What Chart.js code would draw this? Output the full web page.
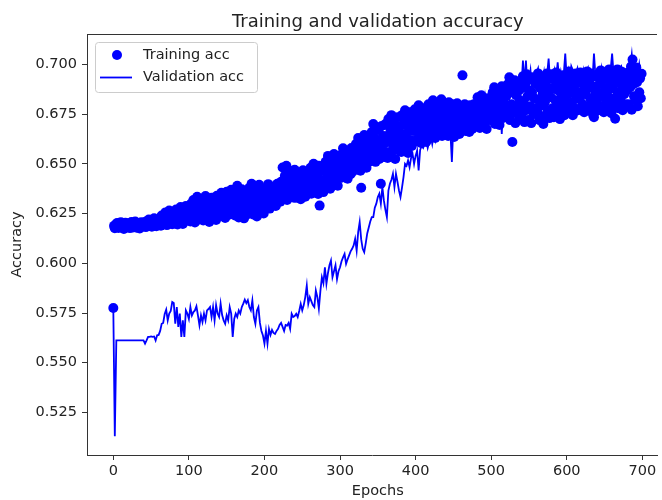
<!DOCTYPE html>
<html>
<head>
<meta charset="utf-8">
<title>Training and validation accuracy</title>
<script src="https://cdn.jsdelivr.net/npm/chart.js@4.4.1/dist/chart.umd.min.js"></script>
<style>
    html, body { margin: 0; padding: 0; background: #ffffff; overflow: hidden; }
    #wrap { width: 662px; height: 500px; }
</style>
</head>
<body>
<div id="wrap"><canvas id="accChart" width="662" height="500"></canvas></div>
<script>
// Training accuracy: one value per epoch (0..699)
const TRAIN_STEP = 1;
// Validation accuracy: sampled every second epoch
const VAL_STEP = 2;

const trainAcc = [
    0.5775, 0.6188, 0.6176, 0.6195, 0.6182, 0.6203, 0.6190, 0.6178, 0.6199, 0.6185,
    0.6207, 0.6192, 0.6180, 0.6198, 0.6172, 0.6189, 0.6204, 0.6183, 0.6196, 0.6190,
    0.6201, 0.6185, 0.6177, 0.6194, 0.6208, 0.6188, 0.6180, 0.6199, 0.6186, 0.6210,
    0.6192, 0.6179, 0.6197, 0.6184, 0.6203, 0.6175, 0.6191, 0.6206, 0.6187, 0.6198,
    0.6189, 0.6205, 0.6193, 0.6182, 0.6212, 0.6198, 0.6187, 0.6220, 0.6202, 0.6190,
    0.6214, 0.6184, 0.6208, 0.6196, 0.6226, 0.6191, 0.6204, 0.6186, 0.6218, 0.6200,
    0.6195, 0.6222, 0.6207, 0.6189, 0.6240, 0.6213, 0.6198, 0.6230, 0.6204, 0.6256,
    0.6218, 0.6192, 0.6235, 0.6210, 0.6265, 0.6201, 0.6226, 0.6245, 0.6196, 0.6232,
    0.6215, 0.6248, 0.6200, 0.6270, 0.6228, 0.6195, 0.6258, 0.6237, 0.6210, 0.6283,
    0.6222, 0.6247, 0.6198, 0.6265, 0.6232, 0.6212, 0.6288, 0.6241, 0.6220, 0.6260,
    0.6235, 0.6275, 0.6210, 0.6300, 0.6255, 0.6225, 0.6318, 0.6268, 0.6205, 0.6290,
    0.6245, 0.6335, 0.6260, 0.6220, 0.6308, 0.6280, 0.6240, 0.6325, 0.6258, 0.6215,
    0.6292, 0.6250, 0.6338, 0.6270, 0.6228, 0.6310, 0.6262, 0.6208, 0.6298, 0.6245,
    0.6330, 0.6275, 0.6232, 0.6315, 0.6255, 0.6288, 0.6218, 0.6340, 0.6268, 0.6302,
    0.6248, 0.6320, 0.6275, 0.6355, 0.6238, 0.6300, 0.6265, 0.6342, 0.6228, 0.6290,
    0.6360, 0.6258, 0.6312, 0.6244, 0.6335, 0.6282, 0.6370, 0.6252, 0.6305, 0.6268,
    0.6325, 0.6240, 0.6358, 0.6290, 0.6390, 0.6262, 0.6230, 0.6340, 0.6305, 0.6255,
    0.6372, 0.6282, 0.6335, 0.6226, 0.6310, 0.6362, 0.6270, 0.6245, 0.6350, 0.6298,
    0.6380, 0.6262, 0.6318, 0.6400, 0.6285, 0.6245, 0.6345, 0.6390, 0.6270, 0.6330,
    0.6235, 0.6372, 0.6300, 0.6395, 0.6258, 0.6322, 0.6362, 0.6280, 0.6340, 0.6250,
    0.6318, 0.6282, 0.6375, 0.6340, 0.6295, 0.6398, 0.6310, 0.6275, 0.6360, 0.6328,
    0.6290, 0.6385, 0.6345, 0.6302, 0.6370, 0.6288, 0.6355, 0.6400, 0.6315, 0.6335,
    0.6345, 0.6310, 0.6410, 0.6370, 0.6482, 0.6325, 0.6395, 0.6440, 0.6350, 0.6490,
    0.6318, 0.6420, 0.6378, 0.6465, 0.6340, 0.6402, 0.6358, 0.6448, 0.6388, 0.6330,
    0.6470, 0.6365, 0.6330, 0.6425, 0.6392, 0.6455, 0.6345, 0.6410, 0.6322, 0.6438,
    0.6380, 0.6468, 0.6352, 0.6400, 0.6335, 0.6445, 0.6372, 0.6418, 0.6360, 0.6460,
    0.6395, 0.6480, 0.6350, 0.6430, 0.6372, 0.6500, 0.6410, 0.6365, 0.6455, 0.6385,
    0.6440, 0.6348, 0.6490, 0.6290, 0.6420, 0.6378, 0.6465, 0.6400, 0.6358, 0.6475,
    0.6420, 0.6510, 0.6385, 0.6460, 0.6540, 0.6405, 0.6480, 0.6375, 0.6525, 0.6440,
    0.6495, 0.6395, 0.6550, 0.6452, 0.6415, 0.6530, 0.6470, 0.6390, 0.6505, 0.6435,
    0.6470, 0.6545, 0.6430, 0.6510, 0.6578, 0.6455, 0.6525, 0.6440, 0.6565, 0.6490,
    0.6425, 0.6555, 0.6480, 0.6520, 0.6448, 0.6580, 0.6500, 0.6462, 0.6538, 0.6495,
    0.6520, 0.6600, 0.6475, 0.6560, 0.6630, 0.6500, 0.6580, 0.6465, 0.6380, 0.6545,
    0.6615, 0.6490, 0.6645, 0.6530, 0.6595, 0.6480, 0.6570, 0.6625, 0.6510, 0.6555,
    0.6600, 0.6520, 0.6660, 0.6575, 0.6700, 0.6540, 0.6630, 0.6510, 0.6685, 0.6590,
    0.6550, 0.6670, 0.6525, 0.6615, 0.6400, 0.6690, 0.6565, 0.6640, 0.6535, 0.6605,
    0.6700, 0.6560, 0.6640, 0.6530, 0.6725, 0.6610, 0.6680, 0.6545, 0.6745, 0.6625,
    0.6575, 0.6710, 0.6650, 0.6525, 0.6690, 0.6600, 0.6735, 0.6570, 0.6660, 0.6615,
    0.6690, 0.6560, 0.6745, 0.6630, 0.6700, 0.6580, 0.6770, 0.6650, 0.6600, 0.6725,
    0.6555, 0.6680, 0.6760, 0.6620, 0.6705, 0.6590, 0.6740, 0.6665, 0.6610, 0.6775,
    0.6700, 0.6620, 0.6765, 0.6660, 0.6795, 0.6640, 0.6725, 0.6605, 0.6750, 0.6690,
    0.6630, 0.6780, 0.6675, 0.6715, 0.6610, 0.6760, 0.6650, 0.6800, 0.6695, 0.6735,
    0.6645, 0.6760, 0.6700, 0.6820, 0.6665, 0.6740, 0.6630, 0.6790, 0.6715, 0.6680,
    0.6805, 0.6650, 0.6755, 0.6695, 0.6825, 0.6640, 0.6730, 0.6775, 0.6670, 0.6710,
    0.6790, 0.6680, 0.6740, 0.6640, 0.6810, 0.6710, 0.6760, 0.6655, 0.6730, 0.6800,
    0.6690, 0.6635, 0.6770, 0.6720, 0.6665, 0.6805, 0.6700, 0.6750, 0.6650, 0.6780,
    0.6720, 0.6680, 0.6945, 0.6760, 0.6700, 0.6800, 0.6665, 0.6740, 0.6785, 0.6690,
    0.6730, 0.6660, 0.6795, 0.6710, 0.6770, 0.6675, 0.6750, 0.6800, 0.6700, 0.6740,
    0.6760, 0.6690, 0.6835, 0.6730, 0.6800, 0.6680, 0.6780, 0.6845, 0.6715, 0.6755,
    0.6820, 0.6700, 0.6790, 0.6740, 0.6675, 0.6830, 0.6770, 0.6720, 0.6810, 0.6750,
    0.6800, 0.6720, 0.6860, 0.6760, 0.6885, 0.6700, 0.6830, 0.6780, 0.6740, 0.6870,
    0.6810, 0.6695, 0.6850, 0.6770, 0.6890, 0.6730, 0.6820, 0.6755, 0.6865, 0.6790,
    0.6840, 0.6735, 0.6900, 0.6780, 0.6935, 0.6720, 0.6860, 0.6800, 0.6610, 0.6880,
    0.6760, 0.6920, 0.6705, 0.6845, 0.6790, 0.6910, 0.6745, 0.6870, 0.6820, 0.6770,
    0.6880, 0.6730, 0.6940, 0.6810, 0.6710, 0.6900, 0.6770, 0.6950, 0.6840, 0.6720,
    0.6870, 0.6925, 0.6790, 0.6705, 0.6860, 0.6935, 0.6750, 0.6830, 0.6910, 0.6780,
    0.6900, 0.6760, 0.6955, 0.6820, 0.6720, 0.6880, 0.6940, 0.6793, 0.6850, 0.6700,
    0.6920, 0.6810, 0.6745, 0.6890, 0.6955, 0.6770, 0.6860, 0.6730, 0.6930, 0.6835,
    0.6950, 0.6780, 0.6880, 0.6735, 0.6920, 0.6820, 0.6960, 0.6760, 0.6870, 0.6940,
    0.6800, 0.6725, 0.6905, 0.6850, 0.6770, 0.6945, 0.6830, 0.6745, 0.6890, 0.6810,
    0.6790, 0.6920, 0.6850, 0.6965, 0.6760, 0.6890, 0.6945, 0.6810, 0.6745, 0.6930,
    0.6870, 0.6780, 0.6955, 0.6840, 0.6905, 0.6770, 0.6920, 0.6825, 0.6960, 0.6860,
    0.6950, 0.6800, 0.6900, 0.6760, 0.6935, 0.6850, 0.6790, 0.6965, 0.6880, 0.6770,
    0.6920, 0.6830, 0.6955, 0.6810, 0.6890, 0.6745, 0.6735, 0.6940, 0.6860, 0.6785,
    0.6820, 0.6945, 0.6770, 0.6900, 0.6855, 0.6970, 0.6790, 0.6920, 0.6840, 0.6760,
    0.6960, 0.6880, 0.6805, 0.6935, 0.6865, 0.6780, 0.6975, 0.6830, 0.6910, 0.6755,
    0.6950, 0.6880, 0.6800, 0.6960, 0.6727, 0.6910, 0.6840, 0.6975, 0.6780, 0.6930,
    0.6860, 0.6820, 0.6965, 0.6890, 0.6770, 0.6945, 0.6850, 0.6920, 0.6800, 0.6900,
    0.6870, 0.6960, 0.6800, 0.6935, 0.6885, 0.6990, 0.6772, 0.7025, 0.6900, 0.6840,
    0.6970, 0.6820, 0.6985, 0.6910, 0.6790, 0.6950, 0.6860, 0.6930, 0.6830, 0.6953
];

const valAcc = [
    0.5775, 0.5130, 0.5612, 0.5612, 0.5612, 0.5612, 0.5612, 0.5612, 0.5612, 0.5612,
    0.5612, 0.5612, 0.5612, 0.5612, 0.5612, 0.5612, 0.5612, 0.5612, 0.5612, 0.5612,
    0.5612, 0.5596, 0.5612, 0.5630, 0.5630, 0.5632, 0.5630, 0.5632, 0.5612, 0.5638,
    0.5640, 0.5660, 0.5696, 0.5700, 0.5745, 0.5767, 0.5713, 0.5747, 0.5760, 0.5805,
    0.5800, 0.5696, 0.5780, 0.5680, 0.5747, 0.5630, 0.5713, 0.5630, 0.5763, 0.5747,
    0.5720, 0.5780, 0.5738, 0.5755, 0.5763, 0.5784, 0.5738, 0.5688, 0.5738, 0.5705,
    0.5747, 0.5713, 0.5763, 0.5770, 0.5780, 0.5730, 0.5780, 0.5713, 0.5790, 0.5747,
    0.5730, 0.5797, 0.5740, 0.5713, 0.5696, 0.5738, 0.5713, 0.5780, 0.5747, 0.5630,
    0.5720, 0.5747, 0.5730, 0.5763, 0.5747, 0.5780, 0.5797, 0.5817, 0.5800, 0.5815,
    0.5780, 0.5763, 0.5813, 0.5730, 0.5696, 0.5763, 0.5780, 0.5700, 0.5660, 0.5637,
    0.5596, 0.5660, 0.5596, 0.5670, 0.5640, 0.5665, 0.5650, 0.5645, 0.5660, 0.5670,
    0.5690, 0.5700, 0.5680, 0.5660, 0.5690, 0.5687, 0.5700, 0.5670, 0.5746, 0.5730,
    0.5735, 0.5746, 0.5730, 0.5760, 0.5796, 0.5763, 0.5790, 0.5830, 0.5888, 0.5796,
    0.5830, 0.5810, 0.5790, 0.5780, 0.5863, 0.5830, 0.5772, 0.5860, 0.5930, 0.5900,
    0.5980, 0.5897, 0.5950, 0.5990, 0.6014, 0.5930, 0.5960, 0.5990, 0.5920, 0.5960,
    0.5980, 0.6010, 0.6030, 0.6047, 0.5997, 0.6020, 0.6040, 0.6060, 0.6073, 0.6090,
    0.6123, 0.6064, 0.6157, 0.6207, 0.6120, 0.6073, 0.6056, 0.6100, 0.6150, 0.6180,
    0.6210, 0.6232, 0.6232, 0.6280, 0.6300, 0.6333, 0.6350, 0.6300, 0.6383, 0.6316,
    0.6270, 0.6232, 0.6366, 0.6400, 0.6420, 0.6450, 0.6383, 0.6450, 0.6410, 0.6366,
    0.6333, 0.6380, 0.6433, 0.6500, 0.6490, 0.6517, 0.6483, 0.6530, 0.6550, 0.6500,
    0.6540, 0.6567, 0.6467, 0.6570, 0.6590, 0.6580, 0.6600, 0.6620, 0.6580, 0.6610,
    0.6640, 0.6600, 0.6650, 0.6620, 0.6680, 0.6640, 0.6700, 0.6660, 0.6690, 0.6720,
    0.6680, 0.6740, 0.6700, 0.6660, 0.6509, 0.6700, 0.6740, 0.6690, 0.6760, 0.6720,
    0.6750, 0.6700, 0.6770, 0.6730, 0.6790, 0.6740, 0.6700, 0.6780, 0.6750, 0.6800,
    0.6760, 0.6810, 0.6740, 0.6790, 0.6820, 0.6770, 0.6840, 0.6790, 0.6830, 0.6780,
    0.6850, 0.6800, 0.6860, 0.6810, 0.6770, 0.6840, 0.6800, 0.6650, 0.6820, 0.6860,
    0.6800, 0.6880, 0.6840, 0.6900, 0.6850, 0.6890, 0.6830, 0.6910, 0.6870, 0.6930,
    0.6880, 0.7020, 0.6900, 0.7020, 0.6880, 0.6920, 0.6970, 0.6880, 0.6930, 0.6900,
    0.6960, 0.6980, 0.6890, 0.6940, 0.6910, 0.6960, 0.6900, 0.6950, 0.7030, 0.6910,
    0.6950, 0.6920, 0.6970, 0.6930, 0.7010, 0.6920, 0.6960, 0.6900, 0.6950, 0.7055,
    0.6930, 0.6970, 0.6920, 0.6990, 0.6970, 0.6920, 0.6960, 0.6980, 0.6900, 0.6950,
    0.6920, 0.6970, 0.6930, 0.6960, 0.6980, 0.6910, 0.6950, 0.6920, 0.7055, 0.6940,
    0.6900, 0.6960, 0.6930, 0.6980, 0.6920, 0.6960, 0.6900, 0.6950, 0.6930, 0.6970,
    0.7055, 0.6950, 0.6900, 0.6960, 0.6930, 0.6980, 0.6990, 0.6920, 0.6960, 0.6910,
    0.6950, 0.6930, 0.6990, 0.7050, 0.6960, 0.6920, 0.6980, 0.6940, 0.7000, 0.6950
];

const xTicks = [0, 100, 200, 300, 400, 500, 600, 700];
const yTicks = [0.525, 0.550, 0.575, 0.600, 0.625, 0.650, 0.675, 0.700];

const BLUE = '#0000ff';
const INK = '#222222';
const FONT = '"DejaVu Sans", sans-serif';

// matplotlib-like frame, title, x label and legend
const axesDecor = {
    id: 'axesDecor',
    afterDraw(chart) {
        const { ctx, chartArea: area, scales: { x } } = chart;
        ctx.save();

        // top spine
        ctx.strokeStyle = '#333333';
        ctx.lineWidth = 1;
        ctx.beginPath();
        ctx.moveTo(area.left, area.top + 0.5);
        ctx.lineTo(area.right, area.top + 0.5);
        ctx.stroke();

        // title and x label, centred on the full axes (-35 .. 735)
        const cx = x.getPixelForValue(350);
        ctx.fillStyle = INK;
        ctx.textAlign = 'center';
        ctx.textBaseline = 'alphabetic';
        ctx.font = '18px ' + FONT;
        ctx.fillText('Training and validation accuracy', cx, 27);
        ctx.textBaseline = 'middle';
        ctx.font = '14.5px ' + FONT;
        ctx.fillText('Epochs', cx, 491);

        // legend box
        const bx = area.left + 8, by = area.top + 8, bw = 162, bh = 50;
        ctx.beginPath();
        ctx.roundRect(bx + 0.5, by + 0.5, bw, bh, 3);
        ctx.fillStyle = 'rgba(255,255,255,0.8)';
        ctx.fill();
        ctx.strokeStyle = '#cccccc';
        ctx.stroke();

        const sets = chart.data.datasets;
        const train = sets.find(d => d.showLine === false);
        const val = sets.find(d => d.showLine !== false);

        ctx.fillStyle = BLUE;
        ctx.beginPath();
        ctx.arc(bx + 22, by + 13, 5, 0, Math.PI * 2);
        ctx.fill();

        ctx.strokeStyle = BLUE;
        ctx.lineWidth = 1.8;
        ctx.beginPath();
        ctx.moveTo(bx + 5, by + 35.5);
        ctx.lineTo(bx + 37, by + 35.5);
        ctx.stroke();

        ctx.fillStyle = INK;
        ctx.textAlign = 'left';
        ctx.font = '14.5px ' + FONT;
        ctx.fillText(train.label, bx + 48, by + 13);
        ctx.fillText(val.label, bx + 48, by + 35);

        ctx.restore();
    }
};

new Chart(document.getElementById('accChart'), {
    type: 'scatter',
    data: {
        datasets: [
            {
                label: 'Validation acc',
                data: valAcc.map((v, i) => ({ x: i * VAL_STEP, y: v })),
                showLine: true,
                borderColor: BLUE,
                borderWidth: 1.8,
                pointRadius: 0,
                tension: 0,
                order: 0
            },
            {
                label: 'Training acc',
                data: trainAcc.map((v, i) => ({ x: i * TRAIN_STEP, y: v })),
                showLine: false,
                backgroundColor: BLUE,
                borderWidth: 0,
                pointRadius: 5,
                pointHoverRadius: 5,
                order: 1
            }
        ]
    },
    options: {
        responsive: false,
        animation: false,
        events: [],
        layout: { padding: { top: 34, left: 0, right: 0, bottom: 0 } },
        plugins: {
            legend: { display: false },
            title: { display: false },
            tooltip: { enabled: false }
        },
        scales: {
            x: {
                type: 'linear',
                min: -34.8,
                max: 719.4,
                afterFit(scale) { scale.height = 45; },
                afterBuildTicks(scale) { scale.ticks = xTicks.map(v => ({ value: v })); },
                border: { display: true, color: '#333333', width: 1 },
                grid: { display: true, drawOnChartArea: false, drawTicks: true, tickLength: 5, color: '#333333' },
                ticks: {
                    color: INK,
                    padding: 3,
                    maxRotation: 0,
                    font: { family: FONT, size: 14.5 }
                }
            },
            y: {
                type: 'linear',
                min: 0.5036,
                max: 0.7153,
                afterFit(scale) { scale.width = 87; },
                afterBuildTicks(scale) { scale.ticks = yTicks.map(v => ({ value: v })); },
                border: { display: true, color: '#333333', width: 1 },
                grid: { display: true, drawOnChartArea: false, drawTicks: true, tickLength: 5, color: '#333333' },
                ticks: {
                    color: INK,
                    padding: 5,
                    font: { family: FONT, size: 14.5 },
                    callback: v => v.toFixed(3)
                },
                title: {
                    display: true,
                    text: 'Accuracy',
                    color: INK,
                    font: { family: FONT, size: 14.5 },
                    padding: { top: 9, bottom: 0 }
                }
            }
        }
    },
    plugins: [axesDecor]
});
</script>
</body>
</html>
